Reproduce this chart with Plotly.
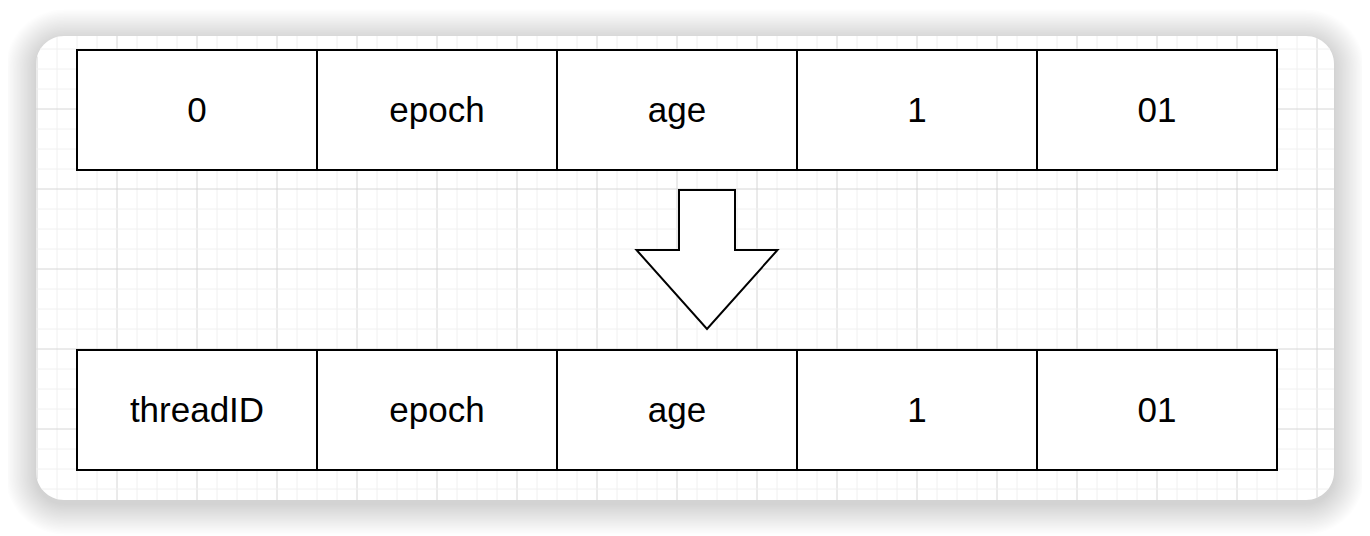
import math
import plotly.graph_objects as go

# diagram content
top_labels = ["0", "epoch", "age", "1", "01"]
bottom_labels = ["threadID", "epoch", "age", "1", "01"]

W, H = 1370, 536
PAGE_PAD = 8  # default body margin of the html page
panel = dict(x0=36, y0=36, x1=1334, y1=500, r=28)
cell_w, cell_h = 240, 120
row_left = 77
row_tops = [50, 350]
font = "Liberation Sans, Helvetica, Arial, sans-serif"


def rounded(x0, y0, x1, y1, r):
    k = 0.5523 * r
    return (f"M{x0 + r},{y0} L{x1 - r},{y0} C{x1 - r + k},{y0} {x1},{y0 + r - k} {x1},{y0 + r} "
            f"L{x1},{y1 - r} C{x1},{y1 - r + k} {x1 - r + k},{y1} {x1 - r},{y1} "
            f"L{x0 + r},{y1} C{x0 + r - k},{y1} {x0},{y1 - r + k} {x0},{y1 - r} "
            f"L{x0},{y0 + r} C{x0},{y0 + r - k} {x0 + r - k},{y0} {x0 + r},{y0} Z")


def corner_off(d, r):
    if d >= r:
        return 0
    return r - math.sqrt(max(r * r - (r - d) ** 2, 0))


fig = go.Figure()

# soft shadow around the panel
for i in range(22):
    e = 1 + i * 1.4
    fig.add_shape(type="path", layer="below", xref="x", yref="y",
                  path=rounded(panel["x0"] - e, panel["y0"] - e + 4, panel["x1"] + e, panel["y1"] + e + 4, panel["r"] + e),
                  fillcolor="rgba(0,0,0,0.0062)", line_width=0)

fig.add_shape(type="path", layer="below", xref="x", yref="y",
              path=rounded(panel["x0"], panel["y0"], panel["x1"], panel["y1"], panel["r"]),
              fillcolor="white", line_width=0)

# background grid, clipped to the rounded panel
r = panel["r"]
x = 37
while x < panel["x1"]:
    d = min(x - panel["x0"], panel["x1"] - x)
    off = corner_off(d, r)
    major = (x - 117) % 80 == 0
    fig.add_shape(type="line", layer="below", x0=x, x1=x, y0=panel["y0"] + off, y1=panel["y1"] - off,
                  line=dict(color="#d6d6d6" if major else "#f0f0f0", width=1))
    x += 20
y = 49
while y < panel["y1"]:
    d = min(y - panel["y0"], panel["y1"] - y)
    off = corner_off(d, r)
    major = (y - 109) % 80 == 0
    fig.add_shape(type="line", layer="below", y0=y, y1=y, x0=panel["x0"] + off, x1=panel["x1"] - off,
                  line=dict(color="#d6d6d6" if major else "#f0f0f0", width=1))
    y += 20

# the two rows of cells
tx, ty, tt = [], [], []
for top, labels in zip(row_tops, [top_labels, bottom_labels]):
    for i, lab in enumerate(labels):
        x0 = row_left + i * cell_w
        fig.add_shape(type="rect", layer="below", x0=x0, x1=x0 + cell_w, y0=top, y1=top + cell_h,
                      fillcolor="white", line=dict(color="black", width=2))
        tx.append(x0 + cell_w / 2)
        ty.append(top + cell_h / 2 + 3)
        tt.append(lab)

# down arrow between the rows
ax, shaft_half, head_half = 707, 28, 70.5
a_top, a_shoulder, a_tip = 190, 250, 329
arrow = (f"M{ax - shaft_half},{a_top} L{ax + shaft_half},{a_top} L{ax + shaft_half},{a_shoulder} "
         f"L{ax + head_half},{a_shoulder} L{ax},{a_tip} L{ax - head_half},{a_shoulder} "
         f"L{ax - shaft_half},{a_shoulder} Z")
fig.add_shape(type="path", layer="below", path=arrow, fillcolor="white",
              line=dict(color="black", width=2))

fig.add_trace(go.Scatter(x=tx, y=ty, text=tt, mode="text", hoverinfo="skip",
                         textposition="middle center",
                         textfont=dict(family=font, size=35, color="black")))

fig.update_layout(
    width=W, height=H,
    margin=dict(l=0, r=0, t=0, b=0),
    paper_bgcolor="white", plot_bgcolor="white",
    showlegend=False,
    xaxis=dict(range=[PAGE_PAD, W + PAGE_PAD], visible=False, fixedrange=True),
    yaxis=dict(range=[H + PAGE_PAD, PAGE_PAD], visible=False, fixedrange=True),
)

fig.write_html("out.html")
